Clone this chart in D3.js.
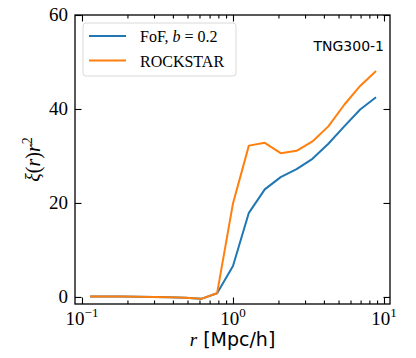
<!DOCTYPE html>
<html lang="en">
<head>
<meta charset="UTF-8">
<title>xi(r) r^2</title>
<script src="https://cdnjs.cloudflare.com/ajax/libs/d3/7.8.5/d3.min.js"></script>
<style>
  body { margin: 0; background: #fff; }
  svg { display: block; }
</style>
</head>
<body>
<svg width="416" height="358"></svg>
<script>
// bin centres in r [Mpc/h]
var rValues = [0.113, 0.144, 0.183, 0.234, 0.298, 0.379, 0.483, 0.616, 0.785, 1.0,
               1.274, 1.624, 2.069, 2.637, 3.360, 4.281, 5.456, 6.952, 8.859];
// xi(r) r^2
var fofValues = [0.1, 0.1, 0.1, 0.05, 0.0, -0.05, -0.15, -0.4, 0.8, 6.6,
                 17.9, 22.9, 25.5, 27.2, 29.4, 32.6, 36.3, 39.9, 42.5];
var rockstarValues = [0.1, 0.1, 0.1, 0.05, 0.0, -0.05, -0.15, -0.4, 0.8, 19.9,
                      32.2, 32.8, 30.6, 31.1, 33.1, 36.3, 40.9, 44.9, 48.1];
var yTicks = [0, 20, 40, 60];
var xMajor = [0.1, 1, 10];
var xExp = ['\u22121', '0', '1'];
var xMinor = [0.2, 0.3, 0.4, 0.5, 0.6, 0.7, 0.8, 0.9, 2, 3, 4, 5, 6, 7, 8, 9];

var serif = "'Liberation Serif', 'DejaVu Serif', serif";
var sans = "'DejaVu Sans', sans-serif";

var L = 75, R = 390, T = 15, B = 304;
var x = d3.scaleLog().domain([0.0899, 10.96]).range([L, R]);
var y = d3.scaleLinear().domain([-1.5, 60]).range([B, T]);

var svg = d3.select('svg');

// ticks (inward, all four sides)
function tickAxis(axis, tr) {
    var g = svg.append('g').attr('transform', tr).call(axis);
    g.select('.domain').remove();
    g.selectAll('line').attr('stroke', '#000').attr('stroke-width', 1.1);
    g.selectAll('text').remove();
}
tickAxis(d3.axisBottom(x).tickValues(xMajor).tickSize(-6.5), 'translate(0,' + B + ')');
tickAxis(d3.axisBottom(x).tickValues(xMinor).tickSize(-3.5), 'translate(0,' + B + ')');
tickAxis(d3.axisTop(x).tickValues(xMajor).tickSize(-6.5), 'translate(0,' + T + ')');
tickAxis(d3.axisTop(x).tickValues(xMinor).tickSize(-3.5), 'translate(0,' + T + ')');
tickAxis(d3.axisLeft(y).tickValues(yTicks).tickSize(-6.5), 'translate(' + L + ',0)');
tickAxis(d3.axisRight(y).tickValues(yTicks).tickSize(-6.5), 'translate(' + R + ',0)');

// frame
svg.append('rect')
    .attr('x', L).attr('y', T).attr('width', R - L).attr('height', B - T)
    .attr('fill', 'none').attr('stroke', '#000').attr('stroke-width', 1.3);

// y tick labels
svg.selectAll('.ylab').data(yTicks).enter().append('text')
    .attr('x', L - 7).attr('y', function (d) { return y(d) + 6; })
    .attr('text-anchor', 'end')
    .style('font-family', serif).style('font-size', '19px')
    .text(function (d) { return d; });

// x tick labels 10^n
xMajor.forEach(function (v, i) {
    var t = svg.append('text')
        .attr('x', x(v)).attr('y', 325)
        .attr('text-anchor', 'middle')
        .style('font-family', serif).style('font-size', '19px');
    t.append('tspan').text('10');
    t.append('tspan').attr('dy', -8).style('font-size', '13px').text(xExp[i]);
});

// axis labels
var xl = svg.append('text')
    .attr('x', (L + R) / 2).attr('y', 346)
    .attr('text-anchor', 'middle')
    .style('font-size', '19px');
xl.append('tspan').style('font-family', serif).style('font-style', 'italic').text('r');
xl.append('tspan').style('font-family', sans).style('font-size', '19px').text(' [Mpc/h]');

var yl = svg.append('text')
    .attr('transform', 'translate(40,' + ((T + B) / 2) + ') rotate(-90)')
    .attr('text-anchor', 'middle')
    .style('font-family', serif).style('font-size', '20px');
yl.append('tspan').style('font-style', 'italic').text('\u03be');
yl.append('tspan').text('(');
yl.append('tspan').style('font-style', 'italic').text('r');
yl.append('tspan').text(')');
yl.append('tspan').style('font-style', 'italic').text('r');
yl.append('tspan').attr('dy', -8).style('font-size', '14px').text('2');

// lines
var line = d3.line()
    .x(function (d) { return x(d[0]); })
    .y(function (d) { return y(d[1]); });
var series = [
    { name: 'fof', vals: fofValues, color: '#1f77b4' },
    { name: 'rockstar', vals: rockstarValues, color: '#ff7f0e' }
];
series.forEach(function (s) {
    svg.append('path')
        .datum(d3.zip(rValues, s.vals))
        .attr('d', line)
        .attr('fill', 'none')
        .attr('stroke', s.color)
        .attr('stroke-width', 2)
        .attr('stroke-linejoin', 'round');
});

// legend
var lg = svg.append('g');
lg.append('rect')
    .attr('x', 83).attr('y', 23).attr('width', 153).attr('height', 53).attr('rx', 3)
    .attr('fill', '#fff').attr('fill-opacity', 0.8)
    .attr('stroke', '#d9d9d9').attr('stroke-width', 1);
var legendRows = [
    { color: '#1f77b4', y: 36 },
    { color: '#ff7f0e', y: 60.5 }
];
legendRows.forEach(function (r) {
    lg.append('line').attr('x1', 89).attr('x2', 126).attr('y1', r.y).attr('y2', r.y)
        .attr('stroke', r.color).attr('stroke-width', 2);
});
var t1 = lg.append('text').attr('x', 140).attr('y', 42)
    .style('font-family', serif).style('font-size', '16px');
t1.append('tspan').text('FoF, ');
t1.append('tspan').style('font-style', 'italic').text('b');
t1.append('tspan').text(' = 0.2');
lg.append('text').attr('x', 140).attr('y', 66.5)
    .style('font-family', serif).style('font-size', '16px')
    .text('ROCKSTAR');

// annotation
svg.append('text')
    .attr('x', 384).attr('y', 51)
    .attr('text-anchor', 'end')
    .style('font-family', sans).style('font-size', '14px')
    .text('TNG300-1');
</script>
</body>
</html>
